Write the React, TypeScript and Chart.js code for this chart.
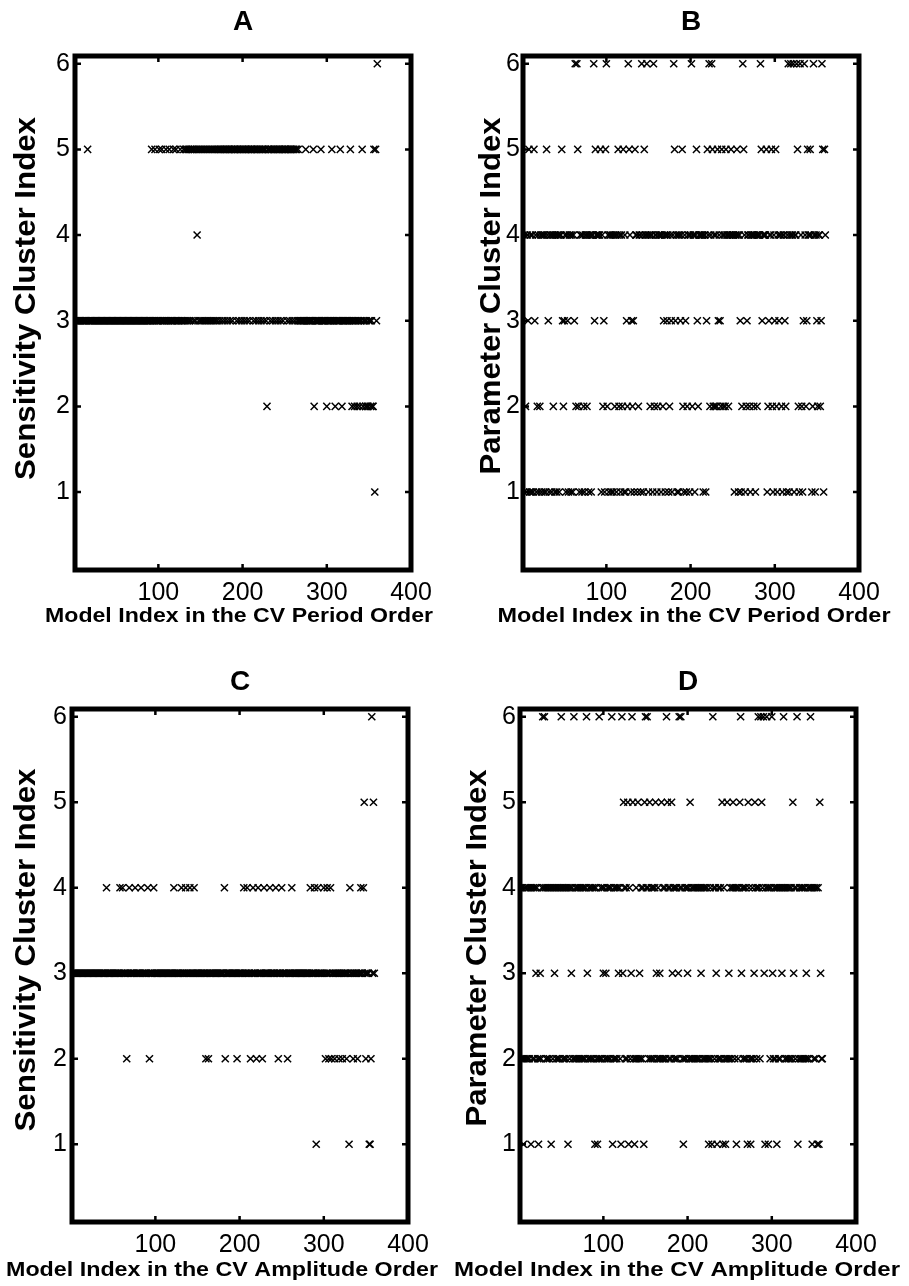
import React, { useEffect, useRef } from "react";
import { Chart, registerables } from "chart.js";

Chart.register(...registerables);

const FONT = '"Liberation Sans", Arial, Helvetica, sans-serif';

const X_TICKS = [100, 200, 300, 400];
const Y_TICKS = [1, 2, 3, 4, 5, 6];
const X_MIN = 1;
const X_MAX = 400;
const Y_MIN = 0.09;
const Y_MAX = 6.09;

const PANEL_TITLES = ["A", "B", "C", "D"];
const X_TITLES = [
  "Model Index in the CV Period Order",
  "Model Index in the CV Period Order",
  "Model Index in the CV Amplitude Order",
  "Model Index in the CV Amplitude Order",
];
const Y_TITLES = [
  "Sensitivity Cluster Index",
  "Parameter Cluster Index",
  "Sensitivity Cluster Index",
  "Parameter Cluster Index",
];

// Cluster index of each model (models 1..360), ten models per group.
const PERIOD_SENSITIVITY = [
  "3333333333", "3333353333", "3333333333", "3333333333", "3333333333", "3333333333",
  "3333333333", "3333333333", "3333333333", "3533353333", "5335333353", "3353333533",
  "5333353335", "3535353535", "5353545353", "5353535353", "5353535353", "5535535535",
  "5355355355", "5535535535", "5355355355", "5535535535", "5355355325", "5535535535",
  "5355355355", "5535535535", "5355353333", "3333533333", "3335233333", "3353333332",
  "3333353332", "3333353233", "3333333532", "3323323323", "3523323223", "3232251536",
];

const PERIOD_PARAMETER = [
  "4142143514", "1415341241", "2414414154", "3144142414", "1441445323", "4143144141",
  "4362652144", "1421442414", "4144635444", "4451423156", "2414414142", "4145241425",
  "1413265413", "2315441244", "1641544641", "4244162441", "2444142341", "4341243146",
  "5341414345", "2143124414", "6244145324", "4444144135", "4624652424", "2534325424",
  "2544244544", "4144541431", "2654123442", "1444241424", "4465344445", "1234452143",
  "5214344214", "4321461464", "4614465216", "4213642354", "4541264143", "2442365154",
];

const AMPLITUDE_SENSITIVITY = [
  "3333333333", "3333333333", "3333333333", "3333333333", "3433333333", "3333333433",
  "4333323343", "3333343333", "3343333333", "4323333433", "3333333333", "3333333333",
  "3433333333", "4333343333", "4333343333", "3333333332", "3323333333", "3333333333",
  "3423333333", "3333332333", "3333433343", "3323343332", "3433332343", "3333343333",
  "3343323334", "3333332333", "3433333333", "3333333333", "3334333343", "1343333334",
  "3234323423", "3323333233", "3233332331", "4333233332", "3334334532", "3331126353",
];

const AMPLITUDE_PARAMETER = [
  "4242124242", "4241424243", "4212324646", "4242424142", "4342424246", "4242424142",
  "4342624242", "4242424246", "3242424241", "4212624243", "4232424246", "1242424342",
  "1635424251", "4236521242", "5232424156", "4642524242", "4532423252", "4242654242",
  "5342424236", "4642124243", "4252424242", "4242434242", "4242124216", "4243124242",
  "5142125232", "4245424142", "4563424242", "1542124235", "4246426546", "3146414246",
  "3242414242", "4346424242", "4242534246", "1242424242", "3242464142", "4241415322",
];

const PANEL_DATA = [PERIOD_SENSITIVITY, PERIOD_PARAMETER, AMPLITUDE_SENSITIVITY, AMPLITUDE_PARAMETER];

type Layout = {
  left: number; top: number; width: number; height: number;
  l: number; r: number; t: number; b: number; yTickPad: number;
  title: [number, number];
  xTitle: [number, number, number];
  yTitle: [number, number, number];
};

// page coordinates for titles: [centerX, centerY, stretchedLength]
const LAYOUTS: Layout[] = [
  { left: 0, top: 0, width: 450, height: 640, l: 75, r: 411, t: 56, b: 570, yTickPad: 5,
    title: [243, 22.5], xTitle: [239, 616.5, 388], yTitle: [27, 298.5, 363] },
  { left: 450, top: 0, width: 459, height: 640, l: 73, r: 409, t: 56, b: 570, yTickPad: 3,
    title: [691, 22.5], xTitle: [694, 616.5, 393], yTitle: [492, 296, 357] },
  { left: 0, top: 640, width: 470, height: 646, l: 72, r: 408, t: 69, b: 582, yTickPad: 5,
    title: [240, 682], xTitle: [222, 1270, 432], yTitle: [27, 950, 363] },
  { left: 440, top: 640, width: 469, height: 646, l: 80, r: 416, t: 69, b: 582, yTickPad: 4,
    title: [688, 682], xTitle: [677, 1270, 446], yTitle: [478, 948, 357] },
];

function toPoints(groups: string[]) {
  const s = groups.join("");
  const pts: { x: number; y: number }[] = [];
  for (let i = 0; i < s.length; i++) pts.push({ x: i + 1, y: Number(s[i]) });
  return pts;
}

function drawText(ctx: CanvasRenderingContext2D, text: string, cx: number, cy: number, font: string, len: number, vertical: boolean) {
  ctx.save();
  ctx.font = font;
  const w = len > 0 ? ctx.measureText(text).width : 1;
  ctx.translate(cx, cy);
  if (vertical) ctx.rotate(-Math.PI / 2);
  if (len > 0) ctx.scale(len / w, 1);
  ctx.textAlign = "center";
  ctx.textBaseline = "middle";
  ctx.fillStyle = "#000";
  ctx.fillText(text, 0, 0);
  ctx.restore();
}

const framePlugin = {
  id: "matlabFrame",
  afterDatasetsDraw(chart: any) {
    const { ctx, chartArea: a, scales } = chart;
    ctx.save();
    ctx.strokeStyle = "#000";
    ctx.lineWidth = 2.5;
    ctx.beginPath();
    for (const v of X_TICKS) {
      if (v >= X_MAX) continue;
      const px = scales.x.getPixelForValue(v);
      ctx.moveTo(px, a.top);
      ctx.lineTo(px, a.top + 6);
      ctx.moveTo(px, a.bottom);
      ctx.lineTo(px, a.bottom - 6);
    }
    for (const v of Y_TICKS) {
      const py = scales.y.getPixelForValue(v);
      ctx.moveTo(a.left, py);
      ctx.lineTo(a.left + 6, py);
      ctx.moveTo(a.right, py);
      ctx.lineTo(a.right - 6, py);
    }
    ctx.stroke();
    ctx.lineWidth = 5;
    ctx.strokeRect(a.left, a.top, a.right - a.left, a.bottom - a.top);
    ctx.restore();
  },
};

function Panel({ idx }: { idx: number }) {
  const ref = useRef<HTMLCanvasElement | null>(null);
  const L = LAYOUTS[idx];
  useEffect(() => {
    if (!ref.current) return;
    const titlesPlugin = {
      id: "panelTitles",
      afterDraw(chart: any) {
        const ctx = chart.ctx as CanvasRenderingContext2D;
        drawText(ctx, PANEL_TITLES[idx], L.title[0] - L.left, L.title[1] - L.top, `bold 28px ${FONT}`, 0, false);
        drawText(ctx, X_TITLES[idx], L.xTitle[0] - L.left, L.xTitle[1] - L.top, `bold 21px ${FONT}`, L.xTitle[2], false);
        drawText(ctx, Y_TITLES[idx], L.yTitle[0] - L.left, L.yTitle[1] - L.top, `bold 30px ${FONT}`, L.yTitle[2], true);
      },
    };
    const chart = new Chart(ref.current, {
      type: "scatter",
      data: {
        datasets: [
          {
            data: toPoints(PANEL_DATA[idx]),
            pointStyle: "crossRot",
            pointRadius: 5,
            pointHoverRadius: 5,
            borderColor: "#000",
            backgroundColor: "#000",
            borderWidth: 1.5,
          },
        ],
      },
      options: {
        animation: false,
        responsive: false,
        maintainAspectRatio: false,
        devicePixelRatio: 1,
        events: [],
        layout: { padding: { left: 0, top: L.t, right: L.width - L.r, bottom: 0 } },
        plugins: {
          legend: { display: false },
          tooltip: { enabled: false },
          title: { display: false },
        },
        scales: {
          x: {
            type: "linear",
            min: X_MIN,
            max: X_MAX,
            afterBuildTicks: (ax: any) => {
              ax.ticks = X_TICKS.map((v) => ({ value: v }));
            },
            afterFit: (s: any) => {
              s.height = L.height - L.b;
            },
            grid: { display: false, drawTicks: false },
            border: { display: false },
            ticks: { color: "#000", font: { family: FONT, size: 25 }, padding: 8, maxRotation: 0, autoSkip: false },
            title: { display: false },
          },
          y: {
            type: "linear",
            min: Y_MIN,
            max: Y_MAX,
            afterBuildTicks: (ax: any) => {
              ax.ticks = Y_TICKS.map((v) => ({ value: v }));
            },
            afterFit: (s: any) => {
              s.width = L.l;
            },
            grid: { display: false, drawTicks: false },
            border: { display: false },
            ticks: { color: "#000", font: { family: FONT, size: 25 }, padding: L.yTickPad, autoSkip: false },
            title: { display: false },
          },
        },
      },
      plugins: [framePlugin, titlesPlugin],
    } as any);
    return () => chart.destroy();
  }, [idx]);
  return (
    <canvas
      ref={ref}
      width={L.width}
      height={L.height}
      style={{ position: "absolute", left: L.left, top: L.top, width: L.width, height: L.height }}
    />
  );
}

export default function App() {
  return (
    <div style={{ position: "absolute", left: 0, top: 0, width: 909, height: 1286, background: "#fff" }}>
      {[0, 1, 2, 3].map((i) => (
        <Panel key={i} idx={i} />
      ))}
    </div>
  );
}
